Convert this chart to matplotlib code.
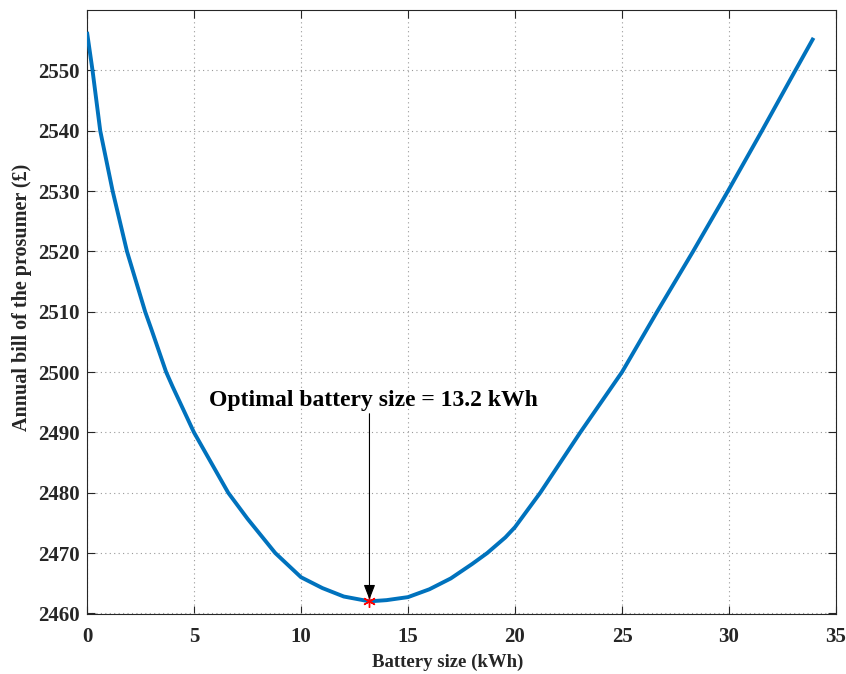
import matplotlib
matplotlib.use("Agg")
import matplotlib.pyplot as plt

battery_size = [0, 0.26, 0.62, 1.2, 1.87, 2.72, 3.0, 3.7, 4.0, 5.0, 6.6, 7.5, 8.8,
                10, 11, 12, 13.2, 14, 15, 16, 17, 18, 18.7, 19.55, 20, 21.18,
                23.05, 25, 26.64, 28.32, 29.95, 31.54, 33.1, 33.95]
annual_bill = [2556.4, 2550, 2540, 2530, 2520, 2510, 2507.2, 2500, 2497.6, 2490,
               2480, 2475.7, 2470, 2466, 2464.2, 2462.8, 2462.0, 2462.2, 2462.7,
               2464.0, 2465.8, 2468.2, 2470, 2472.6, 2474.3, 2480, 2490, 2500,
               2510, 2520, 2530, 2540, 2550, 2555.4]
opt_x = 13.2
opt_y = 2462.0
annotation_text = 'Optimal battery size = 13.2 kWh'
xticks = [0, 5, 10, 15, 20, 25, 30, 35]
yticks = [2460, 2470, 2480, 2490, 2500, 2510, 2520, 2530, 2540, 2550]

FONT = 'Liberation Serif'
TXT = '#262626'

fig = plt.figure(figsize=(8.46, 6.74), dpi=100)
ax = fig.add_axes([0.1028, 0.089, 0.8854, 0.896])

ax.plot(battery_size, annual_bill, color='#0072BD', lw=2.8, zorder=3,
        solid_joinstyle='round', solid_capstyle='butt')
ax.plot([opt_x], [opt_y], marker=(6, 2, 0), color='red', markersize=9,
        markeredgewidth=1.0, ls='none', zorder=4)

ax.annotate('', xy=(opt_x, opt_y + 0.3), xytext=(opt_x, 2493.1),
            arrowprops=dict(arrowstyle='-|>,head_length=0.9,head_width=0.35',
                            color='black', lw=0.8, shrinkA=0, shrinkB=0), zorder=5)
ax.text(5.72, 2494.3, annotation_text, fontsize=17, family=FONT,
        fontweight='bold', color='black', ha='left', va='baseline')

ax.set_xlim(0, 35)
ax.set_ylim(2459.9, 2560)
ax.set_xticks(xticks)
ax.set_yticks(yticks)
ax.set_xticklabels([str(t) for t in xticks], fontsize=15, family=FONT,
                   fontweight='bold', color=TXT)
ax.set_yticklabels([str(t) for t in yticks], fontsize=15, family=FONT,
                   fontweight='bold', color=TXT)
ax.tick_params(direction='in', top=True, right=True, length=6, width=0.8, colors=TXT)
ax.tick_params(axis='x', pad=9, labelcolor=TXT)
ax.tick_params(axis='y', pad=5.5, labelcolor=TXT)
ax.grid(True, color='#9a9a9a', linestyle=(0, (1, 3)), linewidth=0.8)
for s in ax.spines.values():
    s.set_color(TXT)
    s.set_linewidth(0.8)

ax.set_xlabel('Battery size (kWh)', fontsize=13.5, family=FONT, fontweight='bold',
              color=TXT)
ax.set_ylabel('Annual bill of the prosumer (£)', fontsize=14.5, family=FONT,
              fontweight='bold', color=TXT)
ax.xaxis.set_label_coords(0.481, -0.0663)
ax.yaxis.set_label_coords(-0.0734, 0.524)

fig.savefig('out.png', dpi=100)
